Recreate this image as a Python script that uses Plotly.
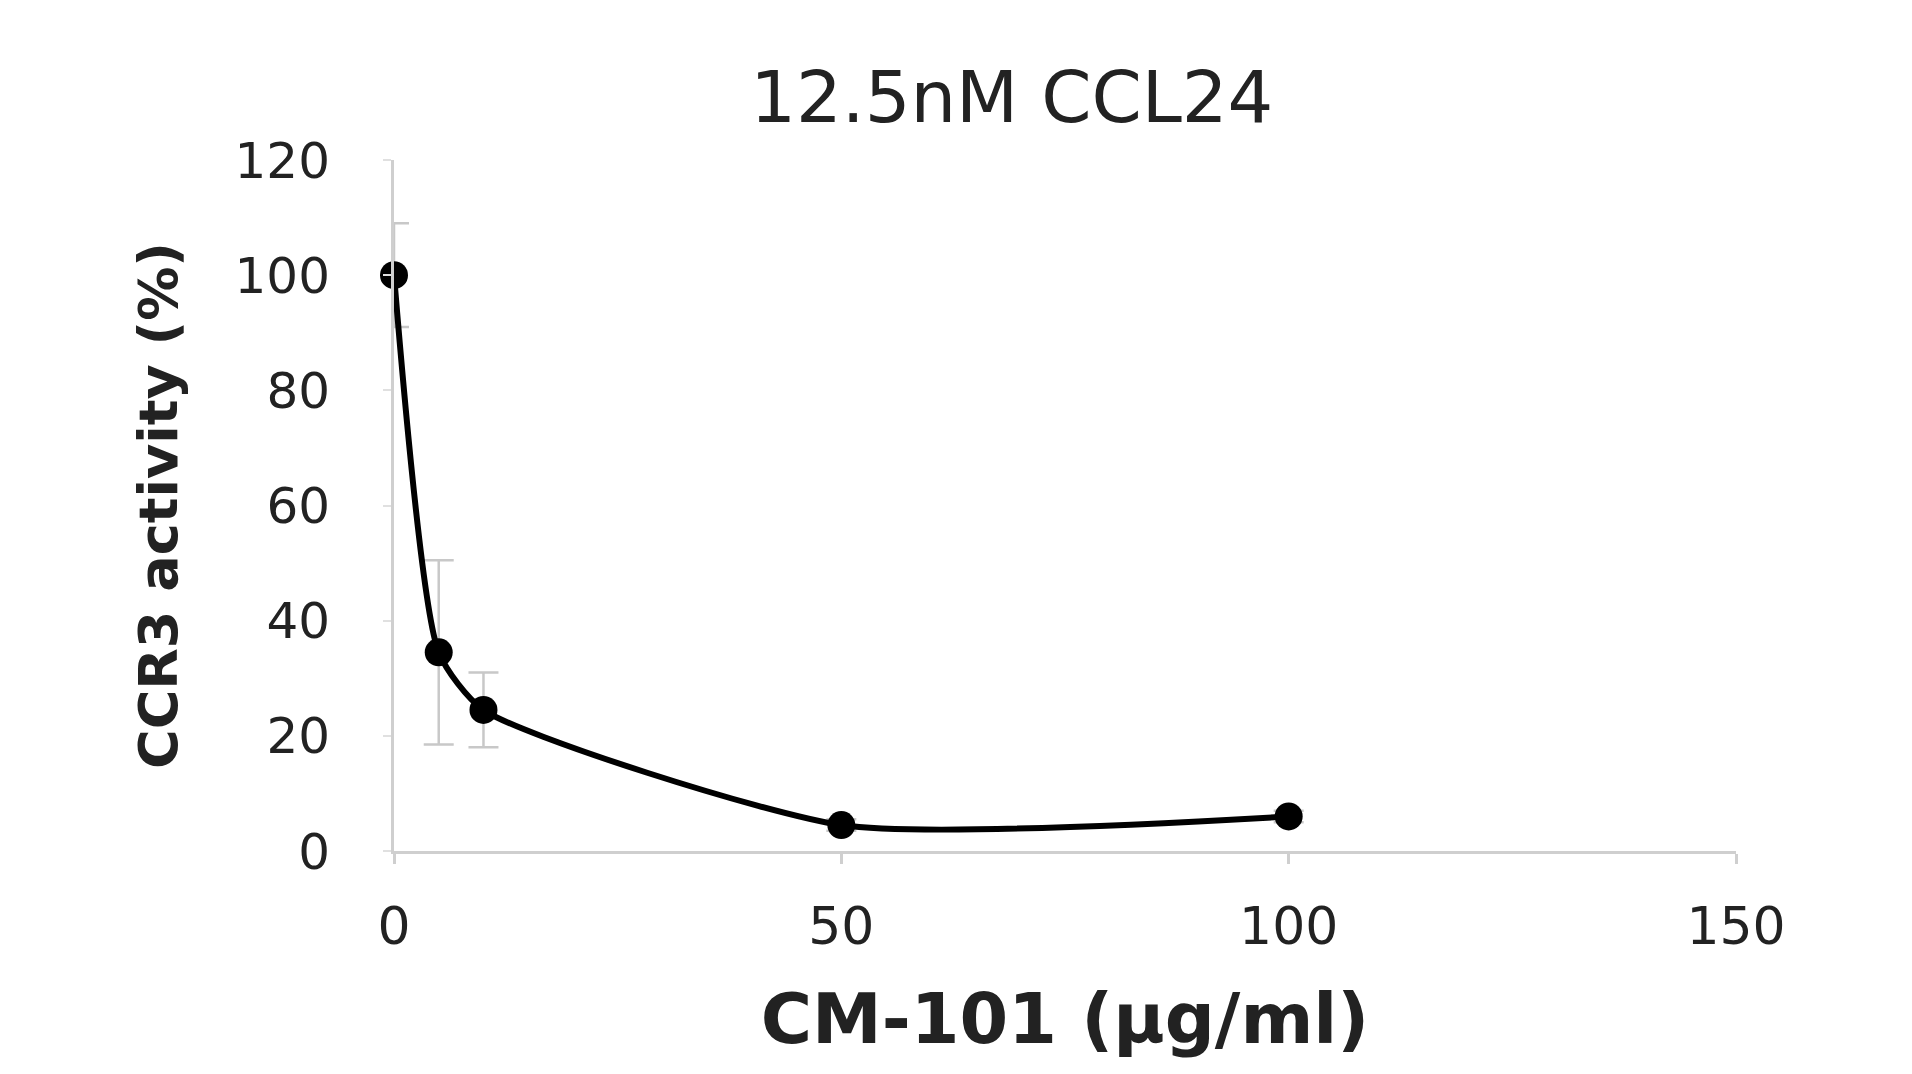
import plotly.graph_objects as go

conc = [0, 5, 10, 50, 100]
activity = [100, 34.5, 24.5, 4.5, 6]
err = [9, 16, 6.5, 1, 1]

x_ticks = [0, 50, 100, 150]
y_ticks = [0, 20, 40, 60, 80, 100, 120]

fig = go.Figure()
fig.add_trace(go.Scatter(
    x=conc, y=activity,
    mode="lines+markers",
    line=dict(color="black", width=6, shape="spline", smoothing=0.6),
    marker=dict(color="black", size=28),
    error_y=dict(type="data", array=err, visible=True, color="#c8c8c8", thickness=2.5, width=15),
    cliponaxis=False,
    showlegend=False,
))

font = "DejaVu Sans"
fig.update_layout(
    width=1912, height=1074,
    paper_bgcolor="white", plot_bgcolor="white",
    margin=dict(l=386, r=184, t=152, b=231),
    title=dict(text="12.5nM CCL24", x=0.525, xanchor="center", y=0.917, yanchor="middle",
               font=dict(family=font, size=72, color="#222")),
    xaxis=dict(range=[0, 150], tickvals=x_ticks, showgrid=False, zeroline=False,
               showline=True, linecolor="#cfcfcf", linewidth=3,
               ticks="outside", ticklen=10, tickcolor="#cfcfcf", tickwidth=3,
               ticklabelstandoff=18,
               tickfont=dict(family=font, size=52, color="#222"),
               title=dict(text="<b>CM-101 (µg/ml)</b>", font=dict(family=font, size=70, color="#222"), standoff=39)),
    yaxis=dict(range=[0, 120], tickvals=y_ticks, showgrid=False, zeroline=False,
               showline=True, linecolor="#cfcfcf", linewidth=3,
               ticks="outside", ticklen=8, tickcolor="#e0e0e0", tickwidth=2,
               ticklabelstandoff=43,
               tickfont=dict(family=font, size=50, color="#222"),
               title=dict(text="<b>CCR3 activity (%)</b>", font=dict(family=font, size=54, color="#222"), standoff=40)),
)

fig.write_html("out.html")
